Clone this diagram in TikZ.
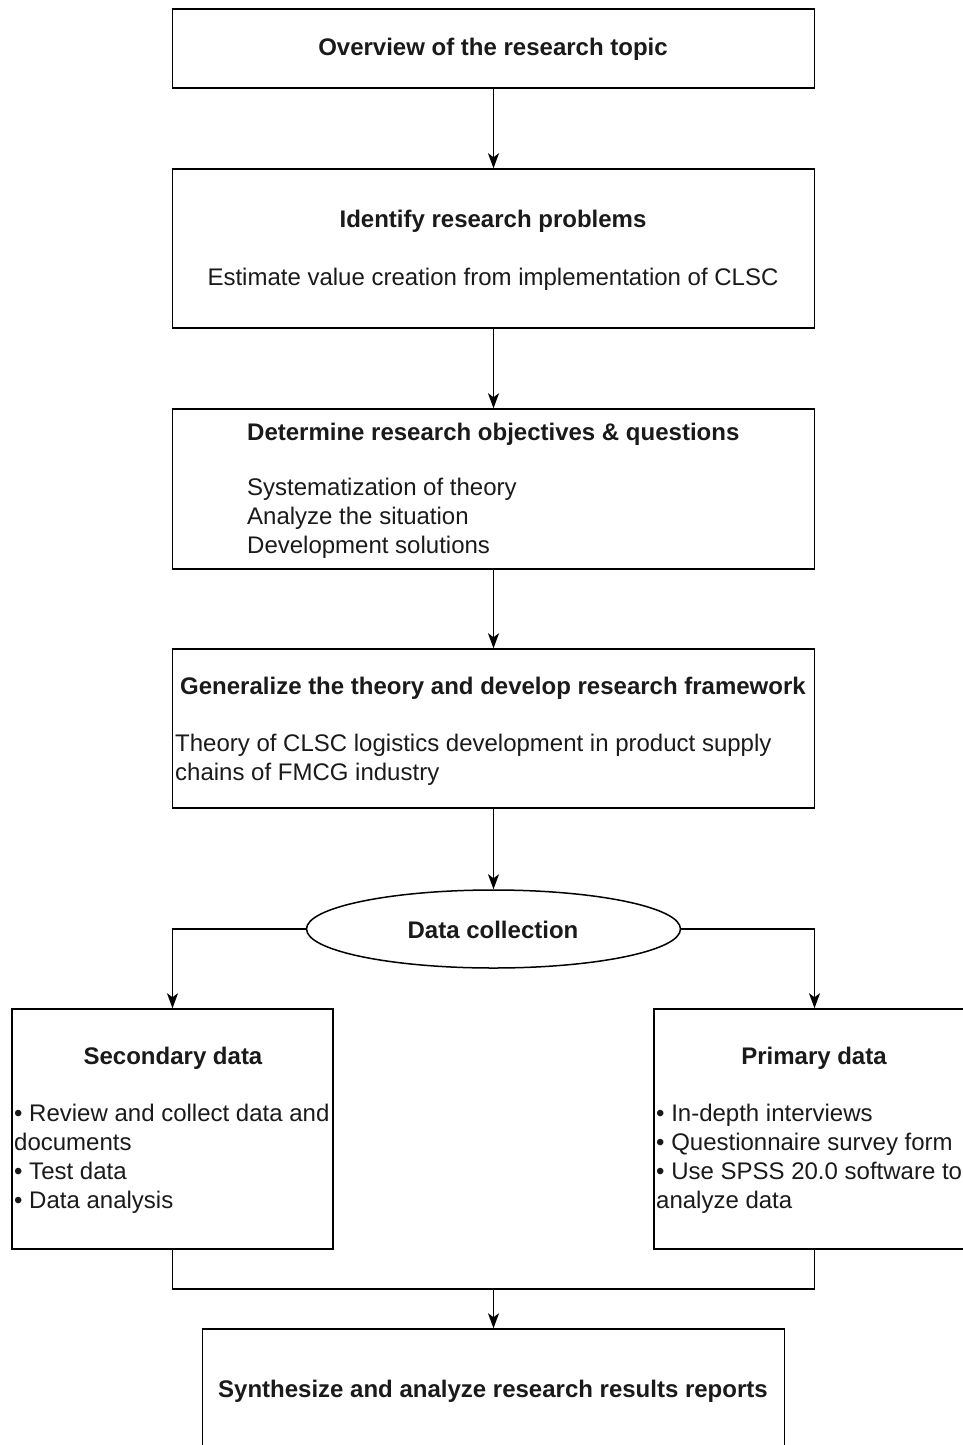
\documentclass[tikz,border=0pt]{standalone}
\usepackage{fontspec}
\setmainfont{Liberation Sans}
\usetikzlibrary{arrows.meta,shapes.geometric}
\definecolor{txt}{HTML}{1A1A1A}
\begin{document}
\begin{tikzpicture}[x=1pt,y=-1pt,
  box/.style={draw=black,line width=1.5pt,fill=white,rectangle,inner sep=0pt},
  ttl/.style={inner sep=0pt,text=txt,font=\fontsize{24}{29}\selectfont\bfseries},
  bodytxt/.style={inner sep=0pt,text=txt,align=left,font=\fontsize{24}{29}\selectfont},
  arr/.style={line width=1.5pt,-{Stealth[length=15pt,width=11pt,inset=4pt]}},
  ln/.style={line width=1.5pt}]
\useasboundingbox (0,0) rectangle (963,1445);
\clip (0,0) rectangle (963,1445);
% boxes
\node[box,minimum width=642pt,minimum height=79pt] (b1) at (493.5,48.5) {};
\node[box,minimum width=642pt,minimum height=159pt] (b2) at (493.5,248.5) {};
\node[box,minimum width=642pt,minimum height=160pt] (b3) at (493.5,489) {};
\node[box,minimum width=642pt,minimum height=159pt] (b4) at (493.5,728.5) {};
\node[draw=black,line width=1.5pt,fill=white,ellipse,minimum width=374pt,minimum height=78pt,inner sep=0pt] (ell) at (493.5,929) {};
\node[box,minimum width=321pt,minimum height=240pt] (sec) at (172.5,1129) {};
\node[box,minimum width=321pt,minimum height=240pt] (pri) at (814.5,1129) {};
\node[box,minimum width=582pt,minimum height=170pt] (res) at (493.5,1414) {};
% texts
\node[ttl] (t1) at (493,49) {Overview of the research topic};
\node[ttl] (t2) at (493,221) {Identify research problems};
\node[bodytxt] (s2) at (493,279) {Estimate value creation from implementation of CLSC};
\node[ttl,anchor=west] (t3) at (247,434) {Determine research objectives \& questions};
\node[bodytxt,anchor=west] (s3) at (247,518.5) {Systematization of theory\\Analyze the situation\\Development solutions};
\node[ttl] (t4) at (493,688) {Generalize the theory and develop research framework};
\node[bodytxt,anchor=west] (s4) at (175,760) {Theory of CLSC logistics development in product supply\\chains of FMCG industry};
\node[ttl] (t5) at (493,930) {Data collection};
\node[ttl] (t6) at (173,1058) {Secondary data};
\node[bodytxt,anchor=west] (s6) at (14,1159) {• Review and collect data and\\documents\\• Test data\\• Data analysis};
\node[ttl] (t7) at (814,1058) {Primary data};
\node[bodytxt,anchor=west] (s7) at (656,1159) {• In-depth interviews\\• Questionnaire survey form\\• Use SPSS 20.0 software to\\analyze data};
\node[ttl] (t8) at (493,1391) {Synthesize and analyze research results reports};
% connectors
\draw[arr] (b1.south) -- (b2.north);
\draw[arr] (b2.south) -- (b3.north);
\draw[arr] (b3.south) -- (b4.north);
\draw[arr] (b4.south) -- (ell.north);
\draw[arr] (ell.west) -| (sec.north);
\draw[arr] (ell.east) -| (pri.north);
\coordinate (m) at (493.5,1289);
\draw[ln] (sec.south) |- (m) -| (pri.south);
\draw[arr] (m) -- (res.north);
\end{tikzpicture}
\end{document}
